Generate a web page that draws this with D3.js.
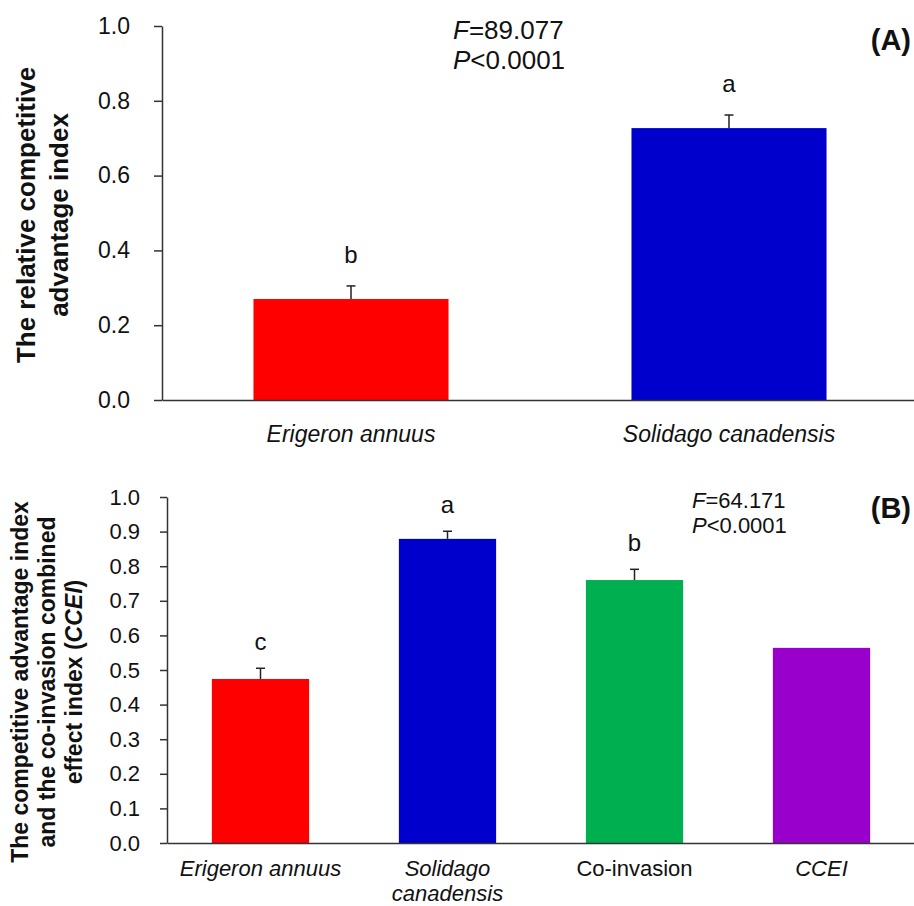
<!DOCTYPE html>
<html>

<head>
    <title>Competitive advantage index</title>
    <script src="https://d3js.org/d3.v7.min.js"></script>
    <style>
        body { margin: 0; background: #fff; }
        svg { font-family: "Liberation Sans", Arial, sans-serif; }
        .axis path, .axis line { stroke: #333; stroke-width: 1.5px; }
        .axis text { fill: #111; }
    </style>
</head>

<body>
    <div id="chart"></div>
    <script>
        // panel A
        const topCategories = ["Erigeron annuus", "Solidago canadensis"];
        const topMeans = [0.27, 0.727];
        const topSE = [0.035, 0.035];
        const topLetters = ["b", "a"];
        const topColors = ["#ff0000", "#0000cc"];
        const topTicks = [0, 0.2, 0.4, 0.6, 0.8, 1.0];

        // panel B
        const bottomCategories = ["Erigeron annuus", "Solidago canadensis", "Co-invasion", "CCEI"];
        const bottomMeans = [0.474, 0.879, 0.760, 0.564];
        const bottomSE = [0.031, 0.022, 0.031, null];
        const bottomLetters = ["c", "a", "b", ""];
        const bottomColors = ["#ff0000", "#0000cc", "#00b050", "#9900cc"];
        const bottomTicks = d3.range(0, 11).map(d => d / 10);

        const svg = d3.select("#chart")
            .append("svg")
            .attr("width", 914)
            .attr("height", 906);

        function drawPanel(p) {
            const x = d3.scaleBand()
                .domain(p.categories)
                .range([p.left, p.right])
                .paddingInner(p.pad)
                .paddingOuter(p.pad / 2);
            const y = d3.scaleLinear().domain([0, 1]).range([p.bottom, p.top]);

            const g = svg.append("g");

            // bars
            g.selectAll("rect.bar")
                .data(p.categories)
                .join("rect")
                .attr("class", "bar")
                .attr("x", d => x(d))
                .attr("width", x.bandwidth())
                .attr("y", (d, i) => y(p.means[i]))
                .attr("height", (d, i) => y(0) - y(p.means[i]))
                .attr("fill", (d, i) => p.colors[i]);

            // upper error bars
            const eb = p.categories.map((c, i) => ({ c, m: p.means[i], se: p.se[i], l: p.letters[i] }));
            const withSE = eb.filter(d => d.se != null);
            g.selectAll("line.err")
                .data(withSE)
                .join("line")
                .attr("class", "err")
                .attr("x1", d => x(d.c) + x.bandwidth() / 2)
                .attr("x2", d => x(d.c) + x.bandwidth() / 2)
                .attr("y1", d => y(d.m))
                .attr("y2", d => y(d.m + d.se))
                .attr("stroke", "#222").attr("stroke-width", 1.5);
            g.selectAll("line.cap")
                .data(withSE)
                .join("line")
                .attr("class", "cap")
                .attr("x1", d => x(d.c) + x.bandwidth() / 2 - 4.5)
                .attr("x2", d => x(d.c) + x.bandwidth() / 2 + 4.5)
                .attr("y1", d => y(d.m + d.se))
                .attr("y2", d => y(d.m + d.se))
                .attr("stroke", "#222").attr("stroke-width", 1.5);

            // significance letters
            g.selectAll("text.letter")
                .data(eb.filter(d => d.l))
                .join("text")
                .attr("class", "letter")
                .attr("x", d => x(d.c) + x.bandwidth() / 2)
                .attr("y", d => y(d.m + (d.se || 0)) - p.letterGap)
                .attr("text-anchor", "middle")
                .attr("font-size", 24)
                .attr("fill", "#111")
                .text(d => d.l);

            // y axis
            const yAxis = g.append("g")
                .attr("class", "axis")
                .attr("transform", `translate(${p.left},0)`)
                .call(d3.axisLeft(y).tickValues(p.ticks).tickFormat(d3.format(".1f"))
                    .tickSize(p.tickLen).tickSizeOuter(0).tickPadding(p.tickPad));
            yAxis.selectAll("text").attr("font-size", p.tickFont).attr("font-family", null);

            // x axis (baseline only), labels drawn separately
            g.append("g")
                .attr("class", "axis")
                .attr("transform", `translate(0,${p.bottom})`)
                .call(d3.axisBottom(x).tickSize(0).tickFormat(""));

            const xl = g.selectAll("text.xlab")
                .data(p.categories)
                .join("text")
                .attr("class", "xlab")
                .attr("x", d => x(d) + x.bandwidth() / 2)
                .attr("y", p.bottom + p.xlabOffset)
                .attr("text-anchor", "middle")
                .attr("font-size", p.xFont)
                .attr("fill", "#111")
                .attr("font-style", d => d === "Co-invasion" ? "normal" : "italic");
            xl.each(function (d) {
                const lines = p.wrap && d === "Solidago canadensis" ? ["Solidago", "canadensis"] : [d];
                d3.select(this).selectAll("tspan")
                    .data(lines)
                    .join("tspan")
                    .attr("x", x(d) + x.bandwidth() / 2)
                    .attr("dy", (l, i) => i === 0 ? 0 : p.xFont * 1.12)
                    .text(l => l);
            });

            // y title
            const yt = g.append("text")
                .attr("transform", `translate(0,${p.titleY}) rotate(-90)`)
                .attr("text-anchor", "middle")
                .attr("font-weight", "bold")
                .attr("font-size", p.titleFont)
                .attr("fill", "#111");
            p.titleLines.forEach((line, i) => {
                const t = yt.append("tspan").attr("x", 0).attr("y", p.titleX[i]);
                line.forEach(seg => {
                    t.append("tspan").attr("font-style", seg.italic ? "italic" : null).text(seg.t);
                });
            });

            // stats text
            g.append("text")
                .attr("x", p.statX).attr("y", p.statY)
                .attr("font-size", p.statFont).attr("fill", "#111")
                .call(t => { t.append("tspan").attr("font-style", "italic").text("F"); t.append("tspan").text("=" + p.F); });
            g.append("text")
                .attr("x", p.statX).attr("y", p.statY + p.statFont * 1.15)
                .attr("font-size", p.statFont).attr("fill", "#111")
                .call(t => { t.append("tspan").attr("font-style", "italic").text("P"); t.append("tspan").text("<0.0001"); });

            // panel tag
            g.append("text")
                .attr("x", 911).attr("y", p.tagY)
                .attr("text-anchor", "end")
                .attr("font-size", 29).attr("font-weight", "bold").attr("fill", "#111")
                .text(p.tag);
        }

        drawPanel({
            categories: topCategories, means: topMeans, se: topSE, letters: topLetters, colors: topColors,
            ticks: topTicks, left: 162, right: 918, top: 26, bottom: 400, pad: 0.484,
            tickLen: 8, tickPad: 24, tickFont: 23, letterGap: 23,
            xFont: 23, xlabOffset: 42, wrap: false,
            titleLines: [[{ t: "The relative competitive" }], [{ t: "advantage index" }]],
            titleX: [35, 68], titleY: 215, titleFont: 26,
            statX: 453, statY: 39, statFont: 26, F: "89.077",
            tag: "(A)", tagY: 50
        });

        drawPanel({
            categories: bottomCategories, means: bottomMeans, se: bottomSE, letters: bottomLetters, colors: bottomColors,
            ticks: bottomTicks, left: 167, right: 915, top: 497, bottom: 843, pad: 0.48,
            tickLen: 7, tickPad: 20, tickFont: 22, letterGap: 18,
            xFont: 22, xlabOffset: 33, wrap: true,
            titleLines: [[{ t: "The competitive advantage index" }], [{ t: "and the co-invasion combined" }],
                [{ t: "effect index (" }, { t: "CCEI", italic: true }, { t: ")" }]],
            titleX: [28, 55, 82], titleY: 682, titleFont: 23,
            statX: 692, statY: 508, statFont: 22, F: "64.171",
            tag: "(B)", tagY: 518
        });
    </script>

</body>

</html>
